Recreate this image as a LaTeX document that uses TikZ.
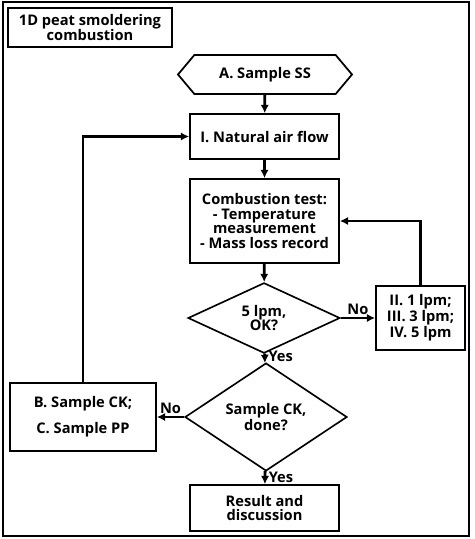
\documentclass[tikz,border=0pt]{standalone}
\usepackage{fontspec}
\setmainfont{Open Sans}
\usepackage{tikz}
\usetikzlibrary{shapes, shapes.geometric, shapes.symbols, arrows.meta, positioning, calc}

\begin{document}
\begin{tikzpicture}[
        x=0.03cm, y=-0.03cm,
        font=\bfseries\fontsize{12.5}{12.4}\selectfont,
        procbox/.style={rectangle, draw=black, line width=1.5pt, minimum width=4.47cm, align=center, inner sep=2pt},
        decision/.style={diamond, draw=black, line width=1.4pt, align=center, inner sep=0pt},
        flow/.style={-{Latex[length=7pt,width=7pt]}, line width=2.4pt},
        lbl/.style={font=\bfseries\fontsize{12.5}{12.4}\selectfont, inner sep=2pt}
    ]
        \useasboundingbox (0,0) rectangle (474,539);
        \draw[line width=1.5pt] (3,2) rectangle (469,536);

        % Title
        \node[procbox, minimum width=4.92cm, minimum height=1.17cm, font=\bfseries\fontsize{12.5}{12.8}\selectfont] (title) at (90,27.5) {1D peat smoldering\\combustion};

        % Main column
        \node[signal, signal to=west and east, signal pointer angle=100, draw=black, line width=1.5pt,
              minimum width=5.22cm, minimum height=1.17cm, inner sep=0pt] (ss) at (265,74.5) {A. Sample SS};
        \node[procbox, minimum height=1.35cm] (air) at (264.5,136.5) {I. Natural air flow};
        \node[procbox, minimum height=2.52cm] (test) at (264.5,221) {Combustion test:\\- Temperature\\measurement\\- Mass loss record};
        \node[decision, minimum width=4.56cm, minimum height=1.92cm] (ok) at (264,318) {5 lpm,\\OK?};
        \node[procbox, minimum width=2.67cm, minimum height=1.92cm] (lpm) at (420.5,318) {II. 1 lpm;\\III. 3 lpm;\\IV. 5 lpm};
        \node[decision, minimum width=4.86cm, minimum height=2.52cm] (ck) at (266,417) {Sample CK,\\done?};
        \node[procbox, minimum width=4.38cm, minimum height=2.04cm] (other) at (83,417) {B. Sample CK;\\[9pt]C. Sample PP};
        \node[procbox, minimum height=1.38cm] (result) at (264.5,508) {Result and\\discussion};

        % Connections
        \draw[flow] (ss) -- (air);
        \draw[flow] (air) -- (test);
        \draw[flow] (test) -- (ok);
        \draw[flow] (ok) -- node[lbl, above] {No} (lpm);
        \draw[flow] (lpm.north) |- (test.east);
        \draw[flow] (ok) -- node[lbl, right, pos=0.3] {Yes} (ck);
        \draw[flow] (ck) -- node[lbl, above] {No} (other);
        \draw[flow] (other.north) |- (air.west);
        \draw[flow] (ck) -- node[lbl, right] {Yes} (result);
    \end{tikzpicture}
\end{document}
